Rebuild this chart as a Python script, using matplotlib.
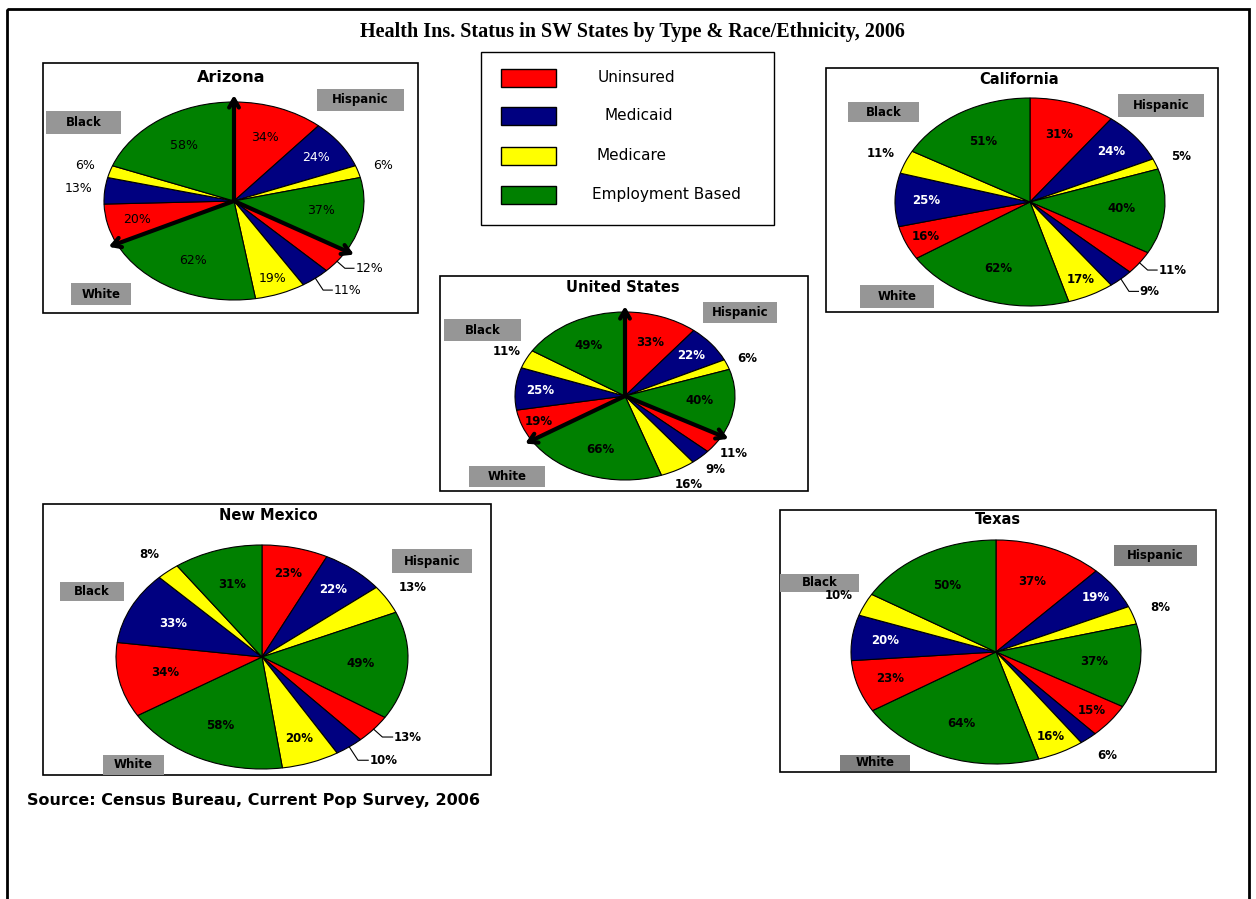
import numpy as np
import matplotlib.pyplot as plt
from matplotlib.patches import Rectangle

# insurance types (legend order) and their colours
types = ['Uninsured', 'Medicaid', 'Medicare', 'Employment Based']
type_colors = ['#FF0000', '#000080', '#FFFF00', '#008000']
groups = ['Hispanic', 'White', 'Black']

# percentages per state, per race group, in type order
az_hispanic = [34, 24, 6, 37]
az_white = [12, 11, 19, 62]
az_black = [20, 13, 6, 58]

ca_hispanic = [31, 24, 5, 40]
ca_white = [11, 9, 17, 62]
ca_black = [16, 25, 11, 51]

us_hispanic = [33, 22, 6, 40]
us_white = [11, 9, 16, 66]
us_black = [19, 25, 11, 49]

nm_hispanic = [23, 22, 13, 49]
nm_white = [13, 10, 20, 58]
nm_black = [34, 33, 8, 31]

tx_hispanic = [37, 19, 8, 37]
tx_white = [15, 6, 16, 64]
tx_black = [23, 20, 10, 50]

W, H = 1256, 899
fig = plt.figure(figsize=(W / 100, H / 100), dpi=100)
fig.patch.set_facecolor('white')

bg = fig.add_axes([0, 0, 1, 1])
bg.set_xlim(0, W)
bg.set_ylim(H, 0)
bg.axis('off')

# outer frame
bg.add_patch(Rectangle((7, 9), 1242, 900, fill=False, lw=2, ec='black'))
bg.text(632, 32, 'Health Ins. Status in SW States by Type & Race/Ethnicity, 2006',
        ha='center', va='center', fontsize=14.5, fontweight='bold',
        family='Liberation Serif')
bg.text(27, 800, 'Source: Census Bureau, Current Pop Survey, 2006',
        ha='left', va='center', fontsize=11.5, fontweight='bold')

# legend
bg.add_patch(Rectangle((481, 52), 293, 173, fill=False, lw=1, ec='black'))
sw_y = [69, 107, 147, 186]
txt_pos = [(598, 77), (604, 115), (597, 156), (592, 194)]
for i, t in enumerate(types):
    bg.add_patch(Rectangle((501, sw_y[i]), 55, 18, fc=type_colors[i], ec='black', lw=1))
    bg.text(txt_pos[i][0], txt_pos[i][1], t, ha='left', va='center', fontsize=11)

# layout for each pie (pixel coordinates)
pies = [
    dict(name='Arizona', data=[az_hispanic, az_white, az_black],
         frame=(43, 63, 375, 250), c=(234, 201), rx=130, ry=99,
         title=(231, 78), tsize=11.5, bold=False, arrows=True,
         outside=[2, 4, 5, 9, 10], leader=[4, 5], boxcol=['#969696'] * 3,
         boxes=[(317, 89, 87, 22), (71, 283, 60, 22), (46, 111, 75, 23)]),
    dict(name='California', data=[ca_hispanic, ca_white, ca_black],
         frame=(826, 68, 392, 244), c=(1030, 202), rx=135, ry=104,
         title=(1019, 79), tsize=10.5, bold=True, arrows=False,
         outside=[2, 4, 5, 10], leader=[4, 5], boxcol=['#969696'] * 3,
         boxes=[(1118, 94, 86, 23), (860, 285, 74, 23), (848, 102, 71, 20)]),
    dict(name='United States', data=[us_hispanic, us_white, us_black],
         frame=(440, 276, 368, 215), c=(625, 396), rx=110, ry=84,
         title=(623, 288), tsize=10.5, bold=True, arrows=True,
         outside=[2, 4, 5, 6, 10], leader=[], boxcol=['#969696'] * 3,
         boxes=[(703, 302, 74, 21), (469, 466, 76, 21), (444, 319, 77, 22)]),
    dict(name='New Mexico', data=[nm_hispanic, nm_white, nm_black],
         frame=(43, 504, 448, 271), c=(262, 657), rx=146, ry=112,
         title=(268, 515), tsize=10.5, bold=True, arrows=False,
         outside=[2, 4, 5, 10], leader=[4, 5], boxcol=['#969696'] * 3,
         boxes=[(392, 549, 80, 24), (103, 755, 61, 20), (60, 582, 64, 19)]),
    dict(name='Texas', data=[tx_hispanic, tx_white, tx_black],
         frame=(780, 510, 436, 262), c=(996, 652), rx=145, ry=112,
         title=(998, 520), tsize=10.5, bold=True, arrows=False,
         outside=[2, 5, 10], leader=[], boxcol=['#808080', '#808080', '#969696'],
         boxes=[(1114, 545, 83, 21), (840, 755, 70, 16), (780, 574, 79, 18)]),
]

L = 1.5
for p in pies:
    fx, fy, fw, fh = p['frame']
    bg.add_patch(Rectangle((fx, fy), fw, fh, fill=False, lw=1.2, ec='black'))
    bg.text(p['title'][0], p['title'][1], p['name'], ha='center', va='center',
            fontsize=p['tsize'], fontweight='bold')
    for g, (bx, by, bw, bh), bc in zip(groups, p['boxes'], p['boxcol']):
        bg.add_patch(Rectangle((bx, by), bw, bh, fc=bc, ec='none'))
        bg.text(bx + bw / 2, by + bh / 2, g, ha='center', va='center',
                fontsize=8.5, fontweight='bold')

    cx, cy = p['c']
    rx, ry = p['rx'], p['ry']
    ax = fig.add_axes([(cx - L * rx) / W, 1 - (cy + L * ry) / H,
                       2 * L * rx / W, 2 * L * ry / H])
    ax.patch.set_alpha(0)
    vals = np.concatenate(p['data'])
    cols = type_colors * 3
    wedges, _ = ax.pie(vals, colors=cols, startangle=90, counterclock=False,
                       wedgeprops=dict(edgecolor='black', linewidth=0.8))
    ax.set_aspect('auto')
    ax.set_xlim(-L, L)
    ax.set_ylim(-L, L)
    ax.axis('off')

    weight = 'bold' if p['bold'] else 'normal'
    fs = 8.5 if p['bold'] else 9
    for i, (w, v) in enumerate(zip(wedges, vals)):
        ang = np.deg2rad((w.theta1 + w.theta2) / 2)
        txt = f'{v}%'
        if i in p['leader']:
            ex, ey = np.cos(ang), np.sin(ang)
            dy = -0.07 if i == 4 else -0.12
            ly = ey + dy
            ax.plot([ex, ex + 0.06, ex + 0.13], [ey, ly, ly], color='black', lw=0.8)
            ax.text(ex + 0.14, ly, txt, ha='left', va='center',
                    fontsize=fs, fontweight=weight)
        elif i in p['outside']:
            r = 1.2
            ax.text(r * np.cos(ang), r * np.sin(ang), txt, ha='center', va='center',
                    fontsize=fs, fontweight=weight)
        else:
            r = 0.68 if v >= 30 else (0.77 if v >= 20 else 0.84)
            tc = 'white' if i % 4 == 1 else 'black'
            ax.text(r * np.cos(ang), r * np.sin(ang), txt, ha='center', va='center',
                    fontsize=fs, fontweight=weight, color=tc)

    if p['arrows']:
        for a in [90, wedges[3].theta1, wedges[7].theta1]:
            t = np.deg2rad(a)
            ax.annotate('', xy=(1.07 * np.cos(t), 1.07 * np.sin(t)), xytext=(0, 0),
                        arrowprops=dict(arrowstyle='->,head_length=0.6,head_width=0.35',
                                        lw=3, color='black', shrinkA=0, shrinkB=0))

fig.savefig('out.png', dpi=100)
